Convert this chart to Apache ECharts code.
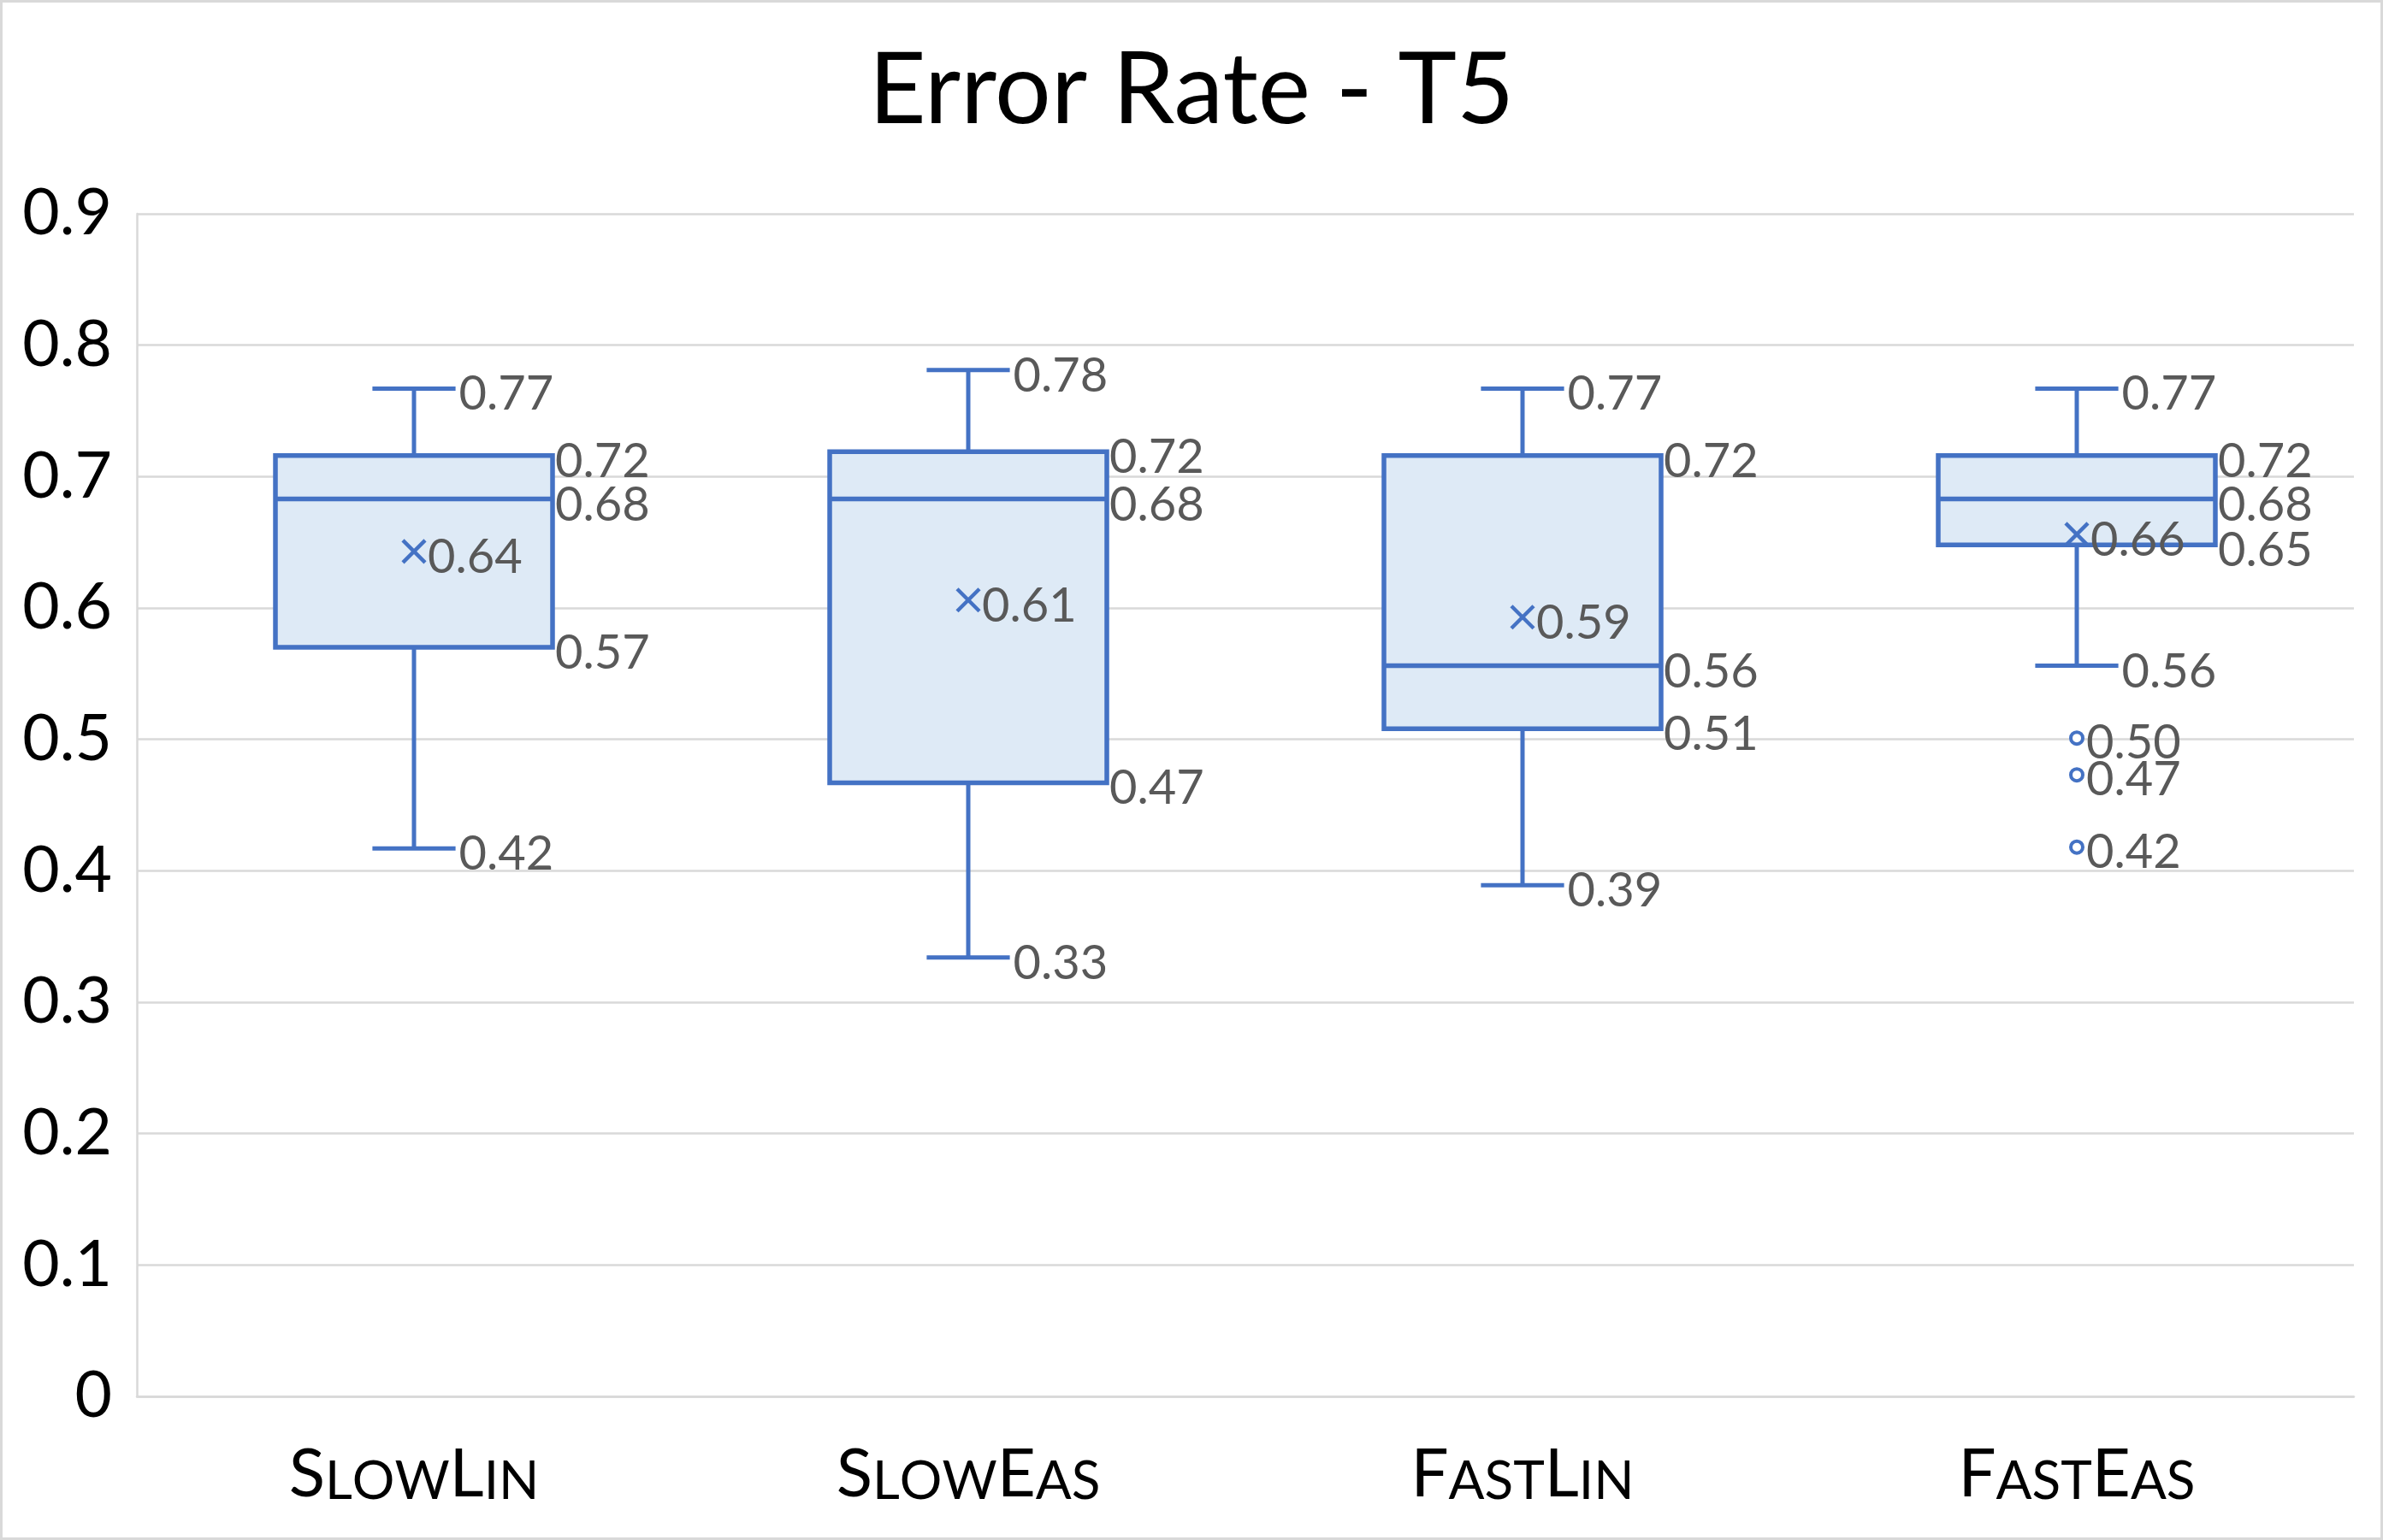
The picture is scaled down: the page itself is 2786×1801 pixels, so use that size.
<!DOCTYPE html>
<html>
<head>
<meta charset="utf-8">
<title>Error Rate - T5</title>
<script src="https://cdn.jsdelivr.net/npm/echarts@6/dist/echarts.min.js"></script>
<style>
  html, body { margin: 0; padding: 0; background: #fff; }
  #chart { width: 2786px; height: 1801px; }
</style>
</head>
<body>
<div id="chart"></div>
<script>
// values
const categories = ['SlowLin', 'SlowEas', 'FastLin', 'FastEas'];
const whiskerMax = [0.767, 0.781, 0.767, 0.767];
const q3 = [0.716, 0.719, 0.716, 0.716];
const median = [0.683, 0.683, 0.556, 0.683];
const q1 = [0.570, 0.467, 0.508, 0.648];
const whiskerMin = [0.417, 0.334, 0.389, 0.556];
const mean = [0.643, 0.606, 0.593, 0.656];
const outlierCategory = 'FastEas';
const outlierValues = [0.501, 0.473, 0.418];

const BLUE = '#4472C4';
const FILL = '#DEEAF6';
const LABEL = '#595959';
const FONT = 'Lato';

// small caps: capitals big, lowercase as smaller capitals
const smallCaps = name => name.split('').map(ch =>
  ch === ch.toUpperCase() ? '{b|' + ch + '}' : '{s|' + ch.toUpperCase() + '}'
).join('');

const boxData = categories.map((c, i) =>
  [i, whiskerMin[i], q1[i], median[i], q3[i], whiskerMax[i], mean[i]]);

function renderBox(params, api) {
  const i = api.value(0);
  const cx = api.coord([i, 0])[0];
  const band = api.size([1, 0])[0];
  const half = band * 0.25;
  const cap = band * 0.075;
  const [yMin, yQ1, yMed, yQ3, yMax, yMean] =
    [1, 2, 3, 4, 5, 6].map(d => api.coord([i, api.value(d)])[1]);

  const line = (x1, y1, x2, y2, w) => ({
    type: 'line',
    shape: { x1, y1, x2, y2 },
    style: { stroke: BLUE, lineWidth: w || 5 }
  });
  const label = (x, y, v) => ({
    type: 'text',
    style: {
      text: v.toFixed(2), x: x, y: y + 7,
      fill: LABEL, fontSize: 56, fontFamily: FONT,
      align: 'left', verticalAlign: 'middle',
      textAlign: 'left', textVerticalAlign: 'middle'
    }
  });
  const m = 13;

  return {
    type: 'group',
    children: [
      line(cx, yQ3, cx, yMax),
      line(cx - cap, yMax, cx + cap, yMax),
      line(cx, yQ1, cx, yMin),
      line(cx - cap, yMin, cx + cap, yMin),
      {
        type: 'rect',
        shape: { x: cx - half, y: yQ3, width: half * 2, height: yQ1 - yQ3 },
        style: { fill: FILL, stroke: BLUE, lineWidth: 5.5 }
      },
      line(cx - half, yMed, cx + half, yMed, 5.5),
      line(cx - m, yMean - m, cx + m, yMean + m, 4.5),
      line(cx - m, yMean + m, cx + m, yMean - m, 4.5),
      label(cx + cap + 4, yMax, api.value(5)),
      label(cx + half + 3, yQ3, api.value(4)),
      label(cx + half + 3, yMed, api.value(3)),
      label(cx + half + 3, yQ1, api.value(2)),
      label(cx + cap + 4, yMin, api.value(1)),
      label(cx + 16, yMean, api.value(6))
    ]
  };
}

const chart = echarts.init(document.getElementById('chart'), null, { renderer: 'canvas' });

chart.setOption({
  animation: false,
  backgroundColor: '#fff',
  title: {
    text: 'Error Rate - T5',
    left: 'center',
    top: 44,
    textStyle: { fontFamily: FONT, fontSize: 116, fontWeight: 'normal', color: '#000' }
  },
  graphic: [{
    type: 'rect',
    shape: { x: 1.5, y: 1.5, width: 2783, height: 1798 },
    style: { fill: 'none', stroke: '#d9d9d9', lineWidth: 3 },
    silent: true
  }],
  grid: { left: 160, right: 34, top: 250, bottom: 168 },
  xAxis: {
    type: 'category',
    data: categories,
    boundaryGap: true,
    axisLine: { show: true, lineStyle: { color: '#d9d9d9', width: 2.5 } },
    axisTick: { show: false },
    axisLabel: {
      margin: 53,
      formatter: v => smallCaps(v),
      rich: {
        b: { fontFamily: FONT, fontSize: 78, color: '#000', verticalAlign: 'bottom' },
        s: { fontFamily: FONT, fontSize: 62, color: '#000', verticalAlign: 'bottom' }
      }
    }
  },
  yAxis: {
    type: 'value',
    min: 0,
    max: 0.9,
    interval: 0.1,
    axisLine: { show: true, lineStyle: { color: '#d9d9d9', width: 2.5 } },
    axisTick: { show: false },
    splitLine: { lineStyle: { color: '#d9d9d9', width: 2.5 } },
    axisLabel: {
      margin: 29,
      fontFamily: FONT,
      fontSize: 75,
      color: '#000',
      padding: [7, 0, 0, 0],
      formatter: v => v === 0 ? '0' : v.toFixed(1)
    }
  },
  series: [
    {
      type: 'custom',
      renderItem: renderBox,
      data: boxData,
      encode: { x: 0, y: [1, 2, 3, 4, 5, 6] },
      z: 2
    },
    {
      type: 'scatter',
      data: outlierValues.map(v => [outlierCategory, v]),
      symbol: 'circle',
      symbolSize: 14,
      itemStyle: { color: '#fff', borderColor: BLUE, borderWidth: 4, opacity: 1 },
      label: {
        show: true,
        position: 'right',
        distance: 2,
        offset: [0, 6],
        fontFamily: FONT,
        fontSize: 56,
        color: LABEL,
        formatter: p => p.value[1].toFixed(2)
      },
      z: 3
    }
  ]
});

window.addEventListener('resize', () => chart.resize());
</script>
</body>
</html>
